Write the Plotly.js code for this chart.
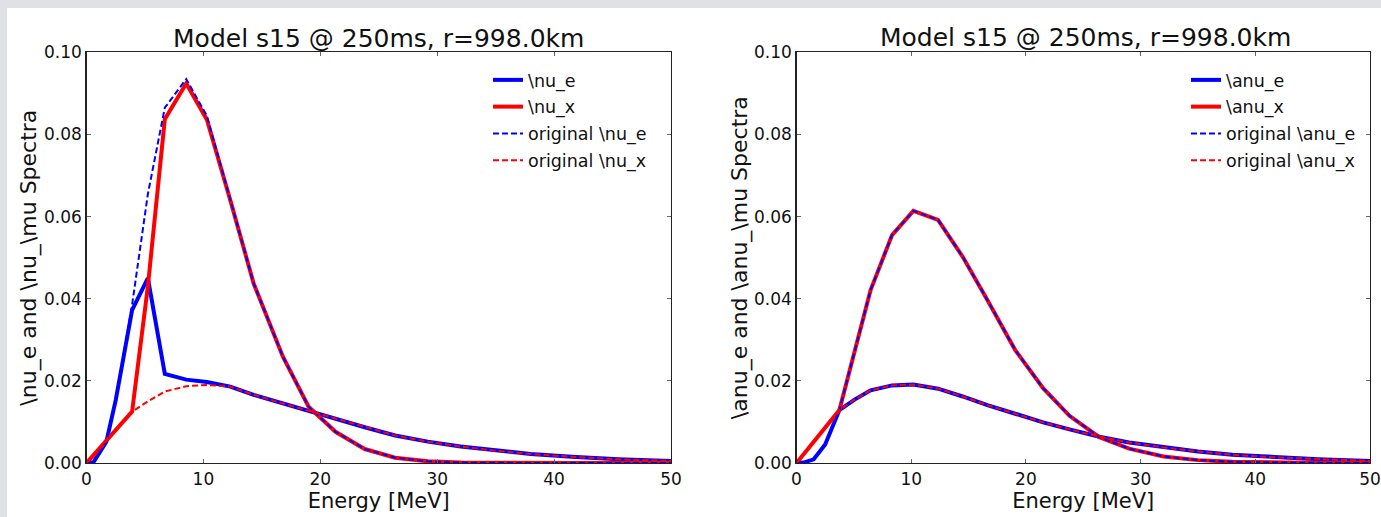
<!DOCTYPE html>
<html>
<head>
<meta charset="utf-8">
<script src="https://cdn.plot.ly/plotly-3.0.1.min.js"></script>
<style>html,body{margin:0;padding:0;background:#dfe1e4;}#chart{width:1381px;height:517px;}</style>
</head>
<body>
<div id="chart"></div>
<script>
// ---- data ----
var titleText = 'Model s15 @ 250ms, r=998.0km';

// left panel: neutrinos
var energyL = [0, 0.6, 1.7, 2.5, 3.9, 5.25, 6.7, 8.53, 10.3, 12.3, 14.3, 16.8, 19.0, 21.3, 23.8, 26.4, 29.2, 32, 35, 38, 41.5, 45.5, 50];
var nuE     = [0, 0.0002, 0.0052, 0.0153, 0.0372, 0.0450, 0.0217, 0.0203, 0.0197, 0.0186, 0.0166, 0.0145, 0.0127, 0.0107, 0.0087, 0.0067, 0.0052, 0.0040, 0.0030, 0.0022, 0.0015, 0.0009, 0.0005];
var nuX     = [0, 0.0019, 0.0054, 0.0080, 0.0125, 0.0430, 0.0837, 0.0924, 0.0836, 0.0640, 0.0437, 0.0259, 0.0137, 0.0076, 0.0034, 0.0013, 0.0004, 0.0001, 0, 0, 0, 0, 0];
var origNuE = [0, 0.0002, 0.0052, 0.0153, 0.0385, 0.0655, 0.0865, 0.0935, 0.0845, 0.0640, 0.0437, 0.0259, 0.0137, 0.0076, 0.0034, 0.0013, 0.0004, 0.0001, 0, 0, 0, 0, 0];
var origNuX = [0, 0.0019, 0.0054, 0.0080, 0.0125, 0.0150, 0.0174, 0.0187, 0.0190, 0.0186, 0.0166, 0.0145, 0.0127, 0.0107, 0.0087, 0.0067, 0.0052, 0.0040, 0.0030, 0.0022, 0.0015, 0.0009, 0.0005];

// right panel: anti-neutrinos
var energyR  = [0, 0.6, 1.5, 2.5, 3.74, 5.1, 6.46, 8.33, 10.19, 12.34, 14.49, 16.64, 19.07, 21.5, 23.8, 26.4, 29.0, 32, 35, 38, 41.5, 45.5, 50];
var anuE     = [0, 0.0001, 0.0009, 0.0045, 0.0129, 0.0155, 0.0177, 0.0189, 0.0191, 0.0181, 0.0162, 0.0141, 0.0120, 0.0099, 0.0082, 0.0064, 0.0050, 0.0038, 0.0028, 0.0020, 0.0014, 0.0009, 0.0005];
var anuX     = [0, 0.0021, 0.0052, 0.0086, 0.0129, 0.0275, 0.0421, 0.0555, 0.0614, 0.0592, 0.0502, 0.0397, 0.0275, 0.0182, 0.0115, 0.0063, 0.0035, 0.0016, 0.0007, 0.0003, 0.0001, 0, 0];
var origAnuE = [0, 0.0001, 0.0009, 0.0045, 0.0129, 0.0275, 0.0421, 0.0555, 0.0614, 0.0592, 0.0502, 0.0397, 0.0275, 0.0182, 0.0115, 0.0063, 0.0035, 0.0016, 0.0007, 0.0003, 0.0001, 0, 0];
var origAnuX = [0, 0.0021, 0.0052, 0.0086, 0.0129, 0.0155, 0.0177, 0.0189, 0.0191, 0.0181, 0.0162, 0.0141, 0.0120, 0.0099, 0.0082, 0.0064, 0.0050, 0.0038, 0.0028, 0.0020, 0.0014, 0.0009, 0.0005];

var namesL = ['\\nu_e', '\\nu_x', 'original \\nu_e', 'original \\nu_x'];
var namesR = ['\\anu_e', '\\anu_x', 'original \\anu_e', 'original \\anu_x'];
var yTitleL = '\\nu_e and \\nu_\\mu Spectra';
var yTitleR = '\\anu_e and \\anu_\\mu Spectra';
var xTitle = 'Energy [MeV]';
var yTicks = [0, 0.02, 0.04, 0.06, 0.08, 0.10];
var xTicks = [0, 10, 20, 30, 40, 50];

// ---- styling ----
var W = 1381, H = 517;
var BLUE = '#0000ff', RED = '#ff0000';
var FONT = 'DejaVu Sans, Verdana, sans-serif';

function tr(x, y, name, color, dashed, xa, ya, leg, grp) {
  return {
    x: x, y: y, name: name, type: 'scatter', mode: 'lines',
    xaxis: xa, yaxis: ya, legend: leg, legendgroup: grp,
    line: dashed ? {color: color, width: 2, dash: '6px,3px'} : {color: color, width: 4},
    hoverinfo: 'skip'
  };
}

var data = [
  tr(energyL, nuE, namesL[0], BLUE, false, 'x', 'y', 'legend', 'a'),
  tr(energyL, nuX, namesL[1], RED, false, 'x', 'y', 'legend', 'b'),
  tr(energyL, origNuE, namesL[2], BLUE, true, 'x', 'y', 'legend', 'c'),
  tr(energyL, origNuX, namesL[3], RED, true, 'x', 'y', 'legend', 'd'),
  tr(energyR, anuE, namesR[0], BLUE, false, 'x2', 'y2', 'legend2', 'e'),
  tr(energyR, anuX, namesR[1], RED, false, 'x2', 'y2', 'legend2', 'f'),
  tr(energyR, origAnuE, namesR[2], BLUE, true, 'x2', 'y2', 'legend2', 'g'),
  tr(energyR, origAnuX, namesR[3], RED, true, 'x2', 'y2', 'legend2', 'h')
];

function xax(domain, anchor) {
  return {
    domain: domain, anchor: anchor, range: [0, 50], tickvals: xTicks,
    showgrid: false, zeroline: false, showline: true, mirror: 'ticks',
    linecolor: '#222', linewidth: 1.2, ticks: 'inside', ticklen: 4, tickcolor: '#666',
    tickfont: {family: FONT, size: 17, color: '#111'},
    title: {text: xTitle, font: {family: FONT, size: 21, color: '#111'}, standoff: 3}
  };
}
function yax(domain, anchor, title, standoff) {
  return {
    domain: domain, anchor: anchor, range: [0, 0.1], tickvals: yTicks, tickformat: '.2f',
    showgrid: false, zeroline: false, showline: true, mirror: 'ticks',
    linecolor: '#222', linewidth: 1.2, ticks: 'inside', ticklen: 4, tickcolor: '#666',
    tickfont: {family: FONT, size: 17, color: '#111'},
    title: {text: title, font: {family: FONT, size: 22, color: '#111'}, standoff: standoff}
  };
}

var yDom = [54 / H, 464.7 / H];
var legFont = {family: FONT, size: 17.5, color: '#111'};
var layout = {
  width: W, height: H,
  margin: {l: 0, r: 0, t: 0, b: 0},
  paper_bgcolor: '#dfe1e4', plot_bgcolor: '#ffffff',
  font: {family: FONT, color: '#111'},
  title: {text: titleText, x: 378.7 / W, xanchor: 'center', xref: 'paper', y: 1 - 38 / H, yanchor: 'middle',
          font: {family: FONT, size: 25, color: '#111'}},
  xaxis: xax([86.5 / W, 671 / W], 'y'),
  yaxis: yax(yDom, 'x', yTitleL, 1),
  xaxis2: xax([796.5 / W, 1370 / W], 'y2'),
  yaxis2: yax(yDom, 'x2', yTitleR, 0),
  showlegend: true,
  legend: {x: 488 / W, y: 1 - 62 / H, xanchor: 'left', yanchor: 'top', bgcolor: 'rgba(0,0,0,0)',
           borderwidth: 0, font: legFont, tracegroupgap: 1, traceorder: 'grouped'},
  legend2: {x: 1186 / W, y: 1 - 62 / H, xanchor: 'left', yanchor: 'top', bgcolor: 'rgba(0,0,0,0)',
           borderwidth: 0, font: legFont, tracegroupgap: 1, traceorder: 'grouped'},
  annotations: [
    {text: titleText, xref: 'paper', yref: 'paper', x: 1085 / W, y: 1 - 38 / H, xanchor: 'center', yanchor: 'middle',
     showarrow: false, font: {family: FONT, size: 25, color: '#111'}}
  ],
  shapes: [
    {type: 'rect', xref: 'paper', yref: 'paper', x0: 7 / W, x1: 1.01, y0: -0.01, y1: 1 - 8 / H,
     fillcolor: '#ffffff', line: {width: 0}, layer: 'below'}
  ]
};

Plotly.newPlot('chart', data, layout, {displayModeBar: false, staticPlot: true});
</script>
</body>
</html>
